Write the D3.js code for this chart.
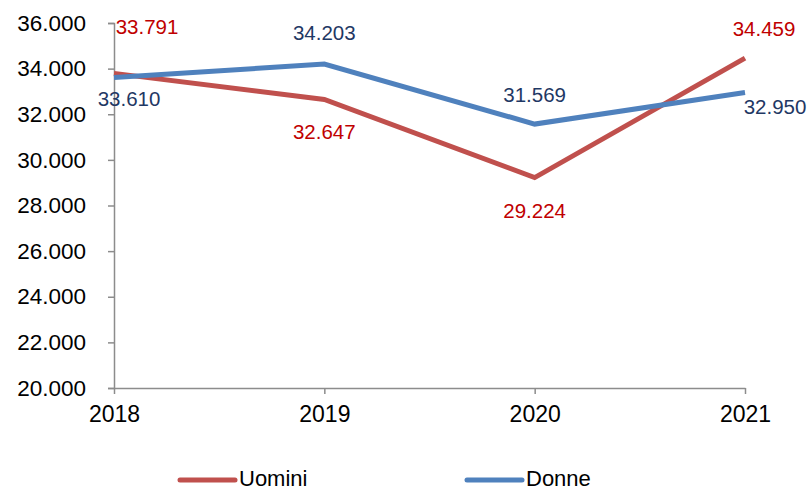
<!DOCTYPE html>
<html>
<head>
<meta charset="utf-8">
<script src="https://cdn.jsdelivr.net/npm/d3@7"></script>
<style>
  body { margin: 0; background: #fff; }
  text { font-family: Arial, "Liberation Sans", sans-serif; }
</style>
</head>
<body>
<div id="chart"></div>
<script>
// Data
var years = ["2018", "2019", "2020", "2021"];
var uomini = [33791, 32647, 29224, 34459];
var donne = [33610, 34203, 31569, 32950];
var yTicks = [20000, 22000, 24000, 26000, 28000, 30000, 32000, 34000, 36000];

var width = 809, height = 490;
var margin = { top: 23, right: 64, bottom: 102, left: 114 };

var it = d3.formatLocale({ decimal: ",", thousands: ".", grouping: [3], currency: ["€", ""] });
var fmt = it.format(",.0f");

var svg = d3.select("#chart").append("svg")
    .attr("width", width)
    .attr("height", height);

var x = d3.scalePoint()
    .domain(years)
    .range([margin.left, width - margin.right]);

var y = d3.scaleLinear()
    .domain([20000, 36000])
    .range([height - margin.bottom, margin.top]);

// y axis
var yAxis = svg.append("g")
    .attr("transform", "translate(" + margin.left + ",0)")
    .call(d3.axisLeft(y).tickValues(yTicks).tickFormat(fmt).tickSize(6).tickPadding(22));
yAxis.select(".domain").attr("stroke", "#8c8c8c").attr("stroke-width", 1.5);
yAxis.selectAll(".tick line").attr("stroke", "#8c8c8c").attr("stroke-width", 1.5);
yAxis.selectAll(".tick text")
    .attr("fill", "#000")
    .style("font-size", "22.5px");

// x axis
var xAxis = svg.append("g")
    .attr("transform", "translate(0," + y(20000) + ")")
    .call(d3.axisBottom(x).tickSize(6).tickPadding(12).tickSizeOuter(0));
xAxis.select(".domain").attr("stroke", "#8c8c8c").attr("stroke-width", 1.5);
xAxis.selectAll(".tick line").attr("stroke", "#8c8c8c").attr("stroke-width", 1.5);
xAxis.selectAll(".tick text")
    .attr("fill", "#000")
    .style("font-size", "23px");

var line = d3.line()
    .x(function(d, i) { return x(years[i]); })
    .y(function(d) { return y(d); });

var series = [
  { name: "Uomini", values: uomini, color: "#c0504d", label: "#c00000",
    dx: [33, 0, 0, 19], dy: [-47, 32, 33, -30] },
  { name: "Donne", values: donne, color: "#4f81bd", label: "#1f3864",
    dx: [15, 0, 0, 30], dy: [21, -31, -30, 14] }
];

series.forEach(function(s) {
  svg.append("path")
      .datum(s.values)
      .attr("fill", "none")
      .attr("stroke", s.color)
      .attr("stroke-width", 5)
      .attr("d", line);
});

// data labels
series.forEach(function(s) {
  svg.append("g").selectAll("text")
      .data(s.values)
    .enter().append("text")
      .attr("x", function(d, i) { return x(years[i]) + s.dx[i]; })
      .attr("y", function(d, i) { return y(d) + s.dy[i]; })
      .attr("text-anchor", "middle")
      .attr("dominant-baseline", "central")
      .attr("fill", s.label)
      .style("font-size", "20.5px")
      .text(function(d) { return fmt(d); });
});

// legend
var legend = svg.append("g").attr("transform", "translate(0,478)");
var legX = [180, 467];
series.forEach(function(s, i) {
  legend.append("line")
      .attr("x1", legX[i]).attr("x2", legX[i] + 55)
      .attr("y1", 2).attr("y2", 2)
      .attr("stroke", s.color)
      .attr("stroke-width", 5)
      .attr("stroke-linecap", "round");
  legend.append("text")
      .attr("x", legX[i] + 59)
      .attr("dominant-baseline", "central")
      .style("font-size", "22px")
      .attr("fill", "#000")
      .text(s.name);
});
</script>
</body>
</html>
